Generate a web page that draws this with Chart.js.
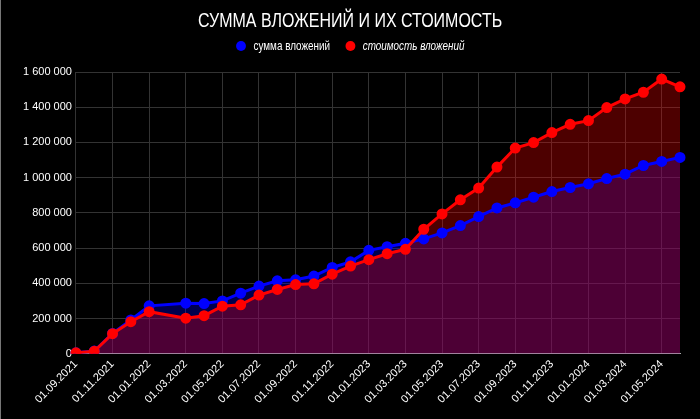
<!DOCTYPE html>
<html lang="ru">
<head>
<meta charset="utf-8">
<title>Сумма вложений и их стоимость</title>
<script src="https://cdn.jsdelivr.net/npm/chart.js@4.4.1/dist/chart.umd.min.js"></script>
<style>
  html, body { margin: 0; padding: 0; background: #000; }
  .wrap { position: relative; width: 699px; height: 419px; border-left: 1px solid #777; }
  .title, .legend {
    position: absolute; left: 0; right: 0;
    display: flex; justify-content: center;
    font-family: "Liberation Sans", Arial, sans-serif;
    color: #fff;
  }
  .title { top: 8px; height: 24px; line-height: 24px; font-size: 20px; }
  .title span { display: inline-block; transform: scaleX(0.8); white-space: nowrap; }
  .legend { top: 38px; height: 16px; line-height: 16px; font-size: 13px; }
  .legend .inner { display: flex; align-items: center; transform: scaleX(0.76); white-space: nowrap; }
  .legend .item { display: flex; align-items: center; margin: 0 10px; }
  .legend i.dot { display: inline-block; width: 13px; height: 10px; border-radius: 50%; margin-right: 10px; }
  .legend em { font-style: italic; }
</style>
</head>
<body>
<div class="wrap">
  <canvas id="investChart" width="699" height="419"></canvas>
  <div class="title"><span>СУММА ВЛОЖЕНИЙ И ИХ СТОИМОСТЬ</span></div>
  <div class="legend" id="legend"></div>
</div>
<script>
// Даты (помесячно)
const labels = [
  '01.09.2021', '01.10.2021', '01.11.2021', '01.12.2021',
  '01.01.2022', '01.02.2022', '01.03.2022', '01.04.2022', '01.05.2022', '01.06.2022',
  '01.07.2022', '01.08.2022', '01.09.2022', '01.10.2022', '01.11.2022', '01.12.2022',
  '01.01.2023', '01.02.2023', '01.03.2023', '01.04.2023', '01.05.2023', '01.06.2023',
  '01.07.2023', '01.08.2023', '01.09.2023', '01.10.2023', '01.11.2023', '01.12.2023',
  '01.01.2024', '01.02.2024', '01.03.2024', '01.04.2024', '01.05.2024', '01.06.2024'
];

// сумма вложений
const invested = [
  5000, 15000, 115000, 192000,
  272000, null, 287000, 285000, 300000, 344000,
  384000, 414000, 420000, 441000, 490000, 522000,
  587000, 608000, 627000, 652000, 686000, 728000,
  779000, 828000, 857000, 889000, 921000, 944000,
  965000, 995000, 1020000, 1069000, 1092000, 1115000
];

// стоимость вложений
const marketValue = [
  5000, 14000, 114000, 182000,
  239000, null, 202000, 216000, 270000, 278000,
  333000, 365000, 393000, 397000, 452000, 498000,
  534000, 568000, 593000, 707000, 794000, 874000,
  941000, 1060000, 1168000, 1199000, 1256000, 1303000,
  1324000, 1398000, 1447000, 1485000, 1560000, 1516000
];

const yTicks = [0, 200000, 400000, 600000, 800000, 1000000, 1200000, 1400000, 1600000];

const regular = '"Liberation Sans", Arial, sans-serif';

function fmt(v) {
  return String(v).replace(/\B(?=(\d{3})+(?!\d))/g, ' ');
}

// Legend (html, second label is italic)
document.getElementById('legend').innerHTML =
  '<div class="inner">' +
  '<span class="item"><i class="dot" style="background:#0000ff"></i>сумма вложений</span>' +
  '<span class="item"><i class="dot" style="background:#ff0000"></i><em>стоимость вложений</em></span>' +
  '</div>';

const ctx = document.getElementById('investChart').getContext('2d');
const investChart = new Chart(ctx, {
  type: 'line',
  data: {
    labels: labels,
    datasets: [
      {
        label: 'стоимость вложений',
        data: marketValue,
        borderColor: '#ff0000',
        backgroundColor: 'rgba(255, 0, 0, 0.3)',
        pointBackgroundColor: '#ff0000',
        pointBorderColor: '#ff0000',
        borderWidth: 3,
        pointRadius: 4,
        tension: 0,
        fill: 'origin',
        spanGaps: true
      },
      {
        label: 'сумма вложений',
        data: invested,
        borderColor: '#0000ff',
        backgroundColor: 'rgba(0, 0, 255, 0.3)',
        pointBackgroundColor: '#0000ff',
        pointBorderColor: '#0000ff',
        borderWidth: 3,
        pointRadius: 4,
        tension: 0,
        fill: 'origin',
        spanGaps: true
      }
    ]
  },
  options: {
    responsive: false,
    animation: false,
    layout: { padding: { left: 18, right: 20, top: 72, bottom: 9 } },
    plugins: {
      filler: { drawTime: 'beforeDatasetsDraw' },
      legend: { display: false },
      tooltip: { enabled: false },
      title: { display: false }
    },
    scales: {
      x: {
        grid: { color: '#333333', drawTicks: false },
        border: { color: '#aaaaaa' },
        ticks: {
          color: '#ffffff',
          font: { family: regular, size: 11 },
          maxRotation: 45,
          minRotation: 45,
          autoSkip: false,
          padding: 4,
          callback: function (value, index) {
            return index % 2 === 0 ? labels[index] : null;
          }
        }
      },
      y: {
        min: 0,
        max: yTicks[yTicks.length - 1],
        grid: { color: '#333333', drawTicks: false },
        border: { color: '#333333' },
        afterBuildTicks: function (axis) {
          axis.ticks = yTicks.map(v => ({ value: v }));
        },
        ticks: {
          color: '#ffffff',
          font: { family: regular, size: 11 },
          padding: 4,
          callback: function (value) { return fmt(value); }
        }
      }
    }
  }
});
</script>
</body>
</html>
